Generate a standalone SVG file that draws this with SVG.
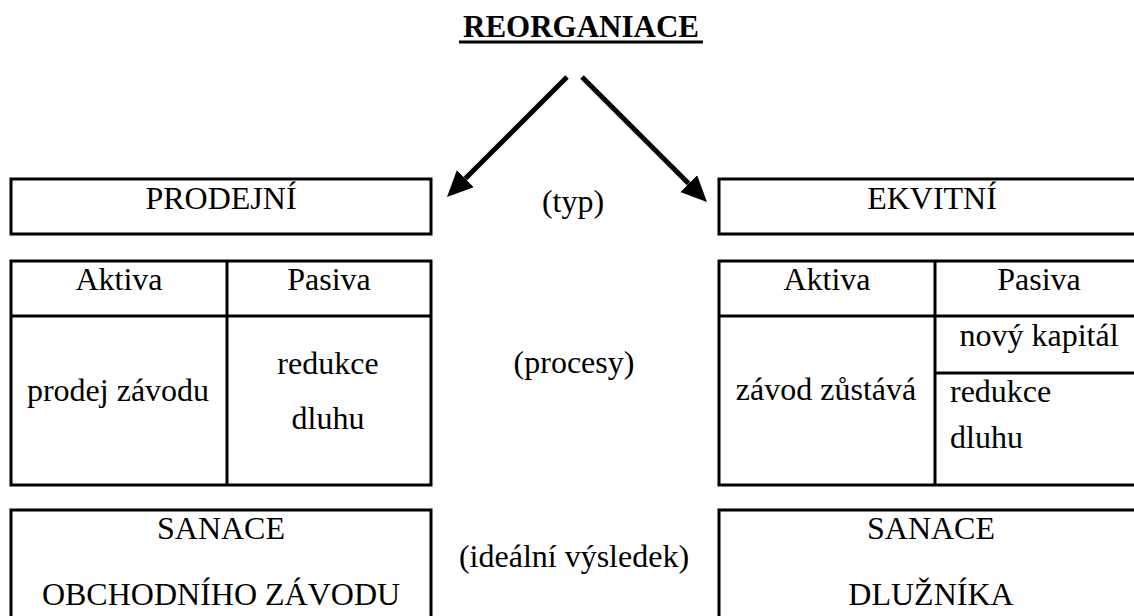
<svg xmlns="http://www.w3.org/2000/svg" width="1134" height="616" viewBox="0 0 1134 616">
<style>
  .box { fill: none; stroke: #000; stroke-width: 3; }
  .ln { stroke: #000; stroke-width: 3; }
  text { font-family: 'Liberation Serif', 'Times New Roman', serif; fill: #000; }
  .t { font-size: 32px; }
  .c { text-anchor: middle; }
  .title { font-size: 31px; font-weight: bold; text-anchor: middle; }
  .arrow { stroke: #000; stroke-width: 5; fill: none; marker-end: url(#head); }
</style>
<defs>
  <marker id="head" markerUnits="userSpaceOnUse" markerWidth="28" markerHeight="26" refX="0" refY="12" orient="auto">
    <path d="M0,0 L26,12 L0,24 z" fill="#000"/>
  </marker>
</defs>
<rect width="1134" height="616" fill="#fff"/>

<g id="title">
  <text class="title" x="581" y="37">REORGANIACE</text>
  <rect x="459" y="40.5" width="244" height="3" fill="#000"/>
</g>

<g id="connectors">
  <line class="arrow" x1="567" y1="77" x2="465.4" y2="178.6"/>
  <line class="arrow" x1="582" y1="77" x2="688.6" y2="183.6"/>
</g>

<g id="prodejni">
  <rect class="box" x="11" y="179" width="420" height="55"/>
  <text class="t c" x="221" y="209">PRODEJNÍ</text>
</g>

<g id="typ">
  <text class="t c" x="573" y="212">(typ)</text>
</g>

<g id="ekvitni">
  <rect class="box" x="719" y="179" width="424" height="55"/>
  <text class="t c" x="932" y="209">EKVITNÍ</text>
</g>

<g id="table-prodejni">
  <rect class="box" x="11" y="261" width="420" height="224"/>
  <line class="ln" x1="11" y1="316" x2="431" y2="316"/>
  <line class="ln" x1="227" y1="261" x2="227" y2="485"/>
  <text class="t c" x="119" y="290">Aktiva</text>
  <text class="t c" x="329" y="290">Pasiva</text>
  <text class="t c" x="118" y="401">prodej závodu</text>
  <text class="t c" x="328" y="374">redukce</text>
  <text class="t c" x="328" y="429">dluhu</text>
</g>

<g id="procesy">
  <text class="t c" x="574" y="373">(procesy)</text>
</g>

<g id="table-ekvitni">
  <rect class="box" x="719" y="261" width="424" height="224"/>
  <line class="ln" x1="719" y1="316" x2="1143" y2="316"/>
  <line class="ln" x1="935" y1="261" x2="935" y2="485"/>
  <line class="ln" x1="935" y1="373" x2="1143" y2="373"/>
  <text class="t c" x="827" y="290">Aktiva</text>
  <text class="t c" x="1039" y="290">Pasiva</text>
  <text class="t c" x="1039" y="346">nový kapitál</text>
  <text class="t c" x="826" y="400">závod zůstává</text>
  <text class="t" x="950" y="402">redukce</text>
  <text class="t" x="950" y="448">dluhu</text>
</g>

<g id="sanace-zavodu">
  <rect class="box" x="11" y="510" width="420" height="120"/>
  <text class="t c" x="221" y="539">SANACE</text>
  <text class="t c" x="221" y="605">OBCHODNÍHO ZÁVODU</text>
</g>

<g id="vysledek">
  <text class="t c" x="574" y="567">(ideální výsledek)</text>
</g>

<g id="sanace-dluznika">
  <rect class="box" x="719" y="510" width="424" height="120"/>
  <text class="t c" x="931" y="539">SANACE</text>
  <text class="t c" x="931" y="605">DLUŽNÍKA</text>
</g>
</svg>
